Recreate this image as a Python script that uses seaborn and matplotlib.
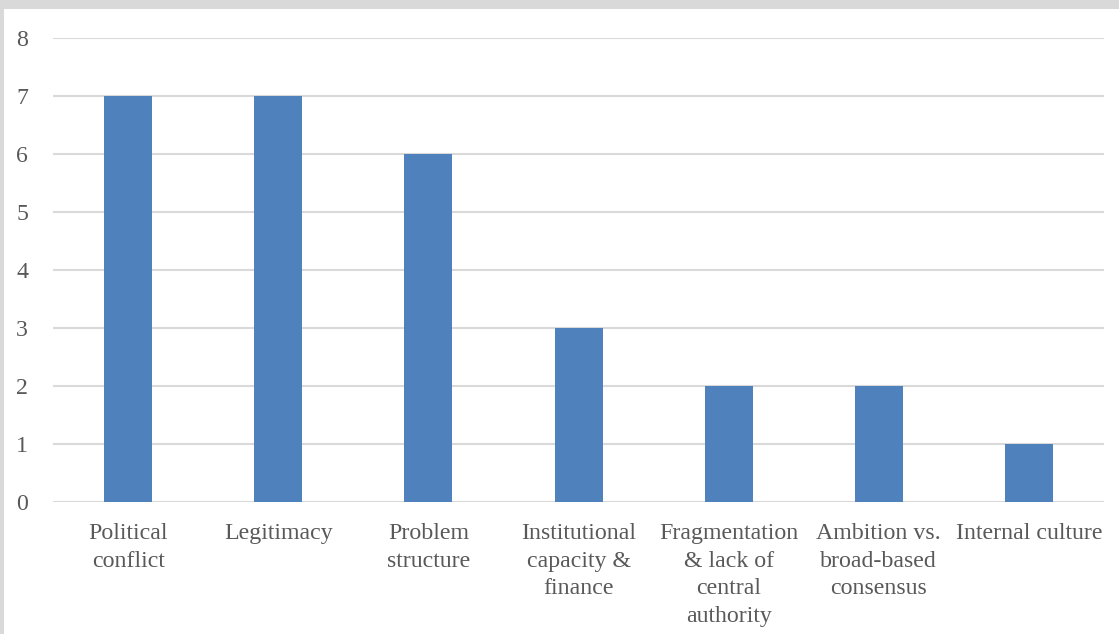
import matplotlib
matplotlib.use("Agg")
import matplotlib.pyplot as plt
import pandas as pd
import seaborn as sns
from matplotlib.patches import Rectangle

categories = [
    "Political\nconflict",
    "Legitimacy",
    "Problem\nstructure",
    "Institutional\ncapacity &\nfinance",
    "Fragmentation\n& lack of\ncentral\nauthority",
    "Ambition vs.\nbroad-based\nconsensus",
    "Internal culture",
]
counts = [7, 7, 6, 3, 2, 2, 1]
y_ticks = [0, 1, 2, 3, 4, 5, 6, 7, 8]

sns.set_theme(style="white")
plt.rcParams["font.family"] = ["Liberation Serif", "DejaVu Serif"]

df = pd.DataFrame({"category": categories, "count": counts})

fig = plt.figure(figsize=(11.19, 6.34), dpi=100)
ax = fig.add_axes([0.0474, 0.2082, 0.9392, 0.7318])

sns.barplot(data=df, x="category", y="count", color="#4f81bd",
            saturation=1, width=0.32, linewidth=0, ax=ax)

ax.set_ylim(0, 8)
ax.set_xlim(-0.5, len(categories) - 0.5)
ax.set_yticks(y_ticks)
ax.yaxis.grid(True, color="#d9d9d9", linewidth=1.5)
ax.set_axisbelow(True)
for s in ax.spines.values():
    s.set_visible(False)
ax.set_xlabel("")
ax.set_ylabel("")
ax.tick_params(axis="both", length=0, labelsize=17.2, labelcolor="#595959")
ax.tick_params(axis="y", pad=18)
ax.tick_params(axis="x", pad=15)
for lab in ax.get_xticklabels():
    lab.set_linespacing(1.42)
    lab.set_va("top")

# gray frame edges (top and left)
fig.patches.append(Rectangle((0, 1 - 9 / 634), 1, 9 / 634, transform=fig.transFigure,
                             facecolor="#d9d9d9", edgecolor="none", zorder=-1))
fig.patches.append(Rectangle((0, 0), 4 / 1119, 1, transform=fig.transFigure,
                             facecolor="#d9d9d9", edgecolor="none", zorder=-1))

fig.savefig("out.png", dpi=100)
